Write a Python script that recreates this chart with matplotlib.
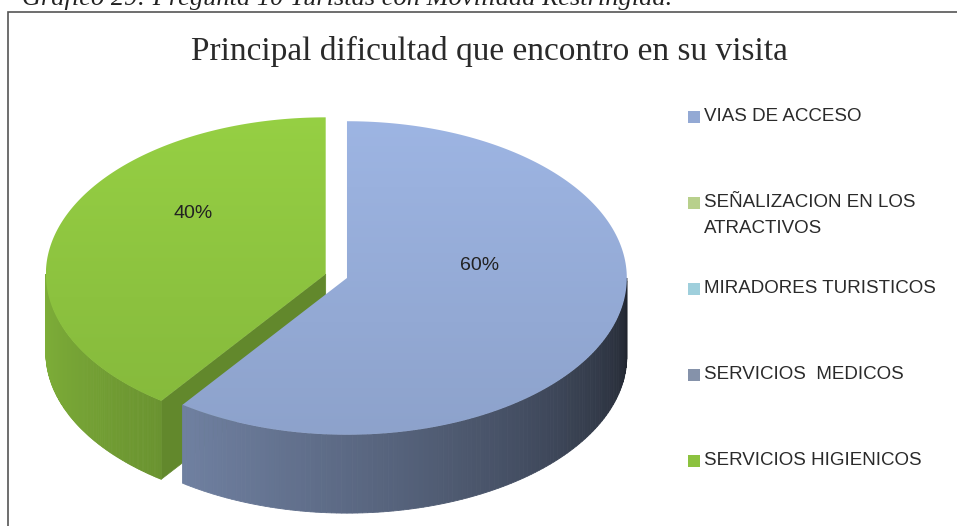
import numpy as np
import matplotlib.pyplot as plt
from matplotlib.patches import Polygon, Rectangle
from matplotlib.colors import to_rgb

# datos del grafico
categorias = ['VIAS DE ACCESO', 'SEÑALIZACION EN LOS\nATRACTIVOS', 'MIRADORES TURISTICOS',
              'SERVICIOS  MEDICOS', 'SERVICIOS HIGIENICOS']
porcentajes = [60, 0, 0, 0, 40]
colores = ['#93a9d4', '#b8d08c', '#9fcfdc', '#8592aa', '#8cc23f']
separacion = [0, 0, 0, 0, 0.08]

titulo = 'Principal dificultad que encontro en su visita'
leyenda_titulo = 'Gráfico 29: Pregunta 10 Turistas con Movilidad Restringida.'

RY = 0.56      # achatamiento de la elipse
ALTO = 0.28    # grosor del pastel
SANS = ['Liberation Sans', 'DejaVu Sans']

fig = plt.figure(figsize=(9.57, 5.26), dpi=100)
ax = fig.add_axes([0, 0, 1, 1])
ax.axis('off')


def sombra(c, f):
    r, g, b = to_rgb(c)
    return (r * f, g * f, b * f)


def factor(t):
    # oscurece la pared lateral de izquierda a derecha
    x = (np.degrees(t) - 180) / 180
    return 0.9 - 0.68 * max(x, 0) ** 1.3


# angulos: empieza arriba y gira en sentido horario
total = sum(porcentajes)
inicio = 90.0
cunas = []
for i, p in enumerate(porcentajes):
    if p == 0:
        continue
    barrido = 360 * p / total
    fin = inicio - barrido
    cunas.append((i, np.radians(fin), np.radians(inicio)))
    inicio = fin

# se dibuja primero la porcion separada (queda detras)
for i, a0, a1 in sorted(cunas, key=lambda c: -separacion[c[0]]):
    col = colores[i]
    mid = (a0 + a1) / 2
    dx = separacion[i] * np.cos(mid)
    dy = separacion[i] * RY * np.sin(mid)

    # pared radial del borde antihorario (visible si la porcion esta separada)
    if separacion[i] > 0:
        tf = a1
        xs = [dx, dx + np.cos(tf), dx + np.cos(tf), dx]
        ys = [dy, dy + RY * np.sin(tf), dy + RY * np.sin(tf) - ALTO, dy - ALTO]
        ax.fill(xs, ys, color=sombra(col, 0.7), lw=0.5, ec=sombra(col, 0.7))

    # pared frontal curva
    b0 = a0 % (2 * np.pi)
    b1 = b0 + (a1 - a0)
    ts = np.linspace(max(b0, np.pi), min(b1, 2 * np.pi), 120)
    if ts[-1] > ts[0]:
        for t0, t1 in zip(ts[:-1], ts[1:]):
            c = sombra(col, factor((t0 + t1) / 2))
            xs = [dx + np.cos(t0), dx + np.cos(t1), dx + np.cos(t1), dx + np.cos(t0)]
            ys = [dy + RY * np.sin(t0), dy + RY * np.sin(t1),
                  dy + RY * np.sin(t1) - ALTO, dy + RY * np.sin(t0) - ALTO]
            ax.fill(xs, ys, color=c, lw=0.6, ec=c)

    # cara superior con degradado
    t = np.linspace(a0, a1, 200)
    px = np.concatenate([[dx], dx + np.cos(t)])
    py = np.concatenate([[dy], dy + RY * np.sin(t)])
    poly = Polygon(np.column_stack([px, py]), closed=True, fc='none', ec='none')
    ax.add_patch(poly)
    grad = np.linspace(1.07, 0.96, 100)[:, None, None] * np.array(to_rgb(col))[None, None, :]
    grad = np.clip(grad, 0, 1)
    im = ax.imshow(grad, extent=[px.min(), px.max(), py.min(), py.max()],
                   aspect='auto', origin='upper', zorder=2)
    im.set_clip_path(poly)

    # etiqueta de porcentaje
    ax.text(dx + 0.5 * np.cos(mid), dy + 0.5 * RY * np.sin(mid) + 0.13,
            f'{porcentajes[i]}%', ha='center', va='center', fontsize=14,
            family=SANS, color='#222222', zorder=5)

ax.set_xlim(-1.24, 2.18)
ax.set_ylim(-0.886, 0.993)

# marco del grafico
fig.patches.append(Rectangle((8 / 957, -0.1), 1.1, 1.1 - 12 / 526, transform=fig.transFigure,
                             fill=False, ec='#555555', lw=1.2))

fig.text(0.511, 1 - 51 / 526, titulo, ha='center', va='center', fontsize=24,
         family='Liberation Serif', color='#2a2a2a')
fig.text(22 / 957, 1 - 5 / 526, leyenda_titulo, ha='left', va='baseline', fontsize=19,
         family='Liberation Serif', style='italic', color='#222222')

# leyenda
ys_ley = [117, 203, 289, 375, 461]
for nombre, c, yl in zip(categorias, colores, ys_ley):
    fig.patches.append(Rectangle((688 / 957, 1 - (yl + 6) / 526), 12 / 957, 12 / 526,
                                 transform=fig.transFigure, fc=c, ec='none'))
    fig.text(704 / 957, 1 - (yl - 9) / 526, nombre, ha='left', va='top', fontsize=13.5,
             family=SANS, color='#2a2a2a', linespacing=1.7)

fig.savefig('out.png', dpi=100)
